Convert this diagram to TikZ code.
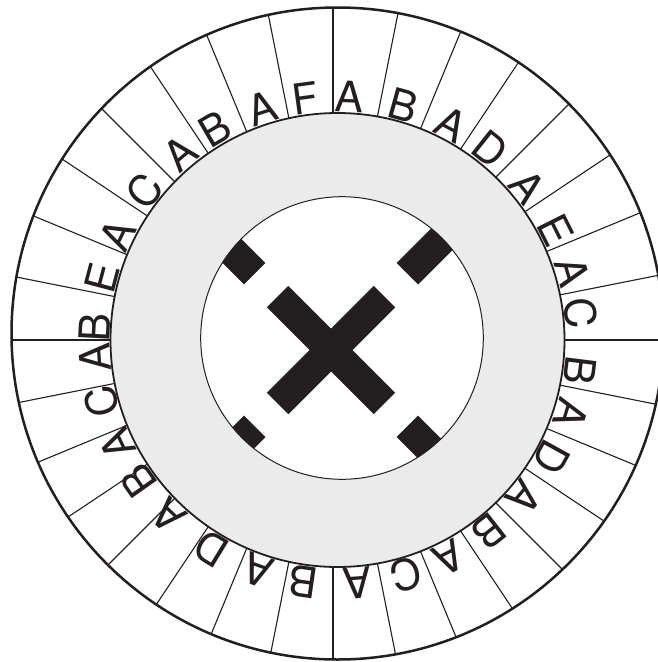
\documentclass[tikz,border=0pt]{standalone}
\usepackage{fontspec}
\setmainfont{TeX Gyre Heros}
\definecolor{ink}{HTML}{231F20}
\definecolor{ringgray}{HTML}{EBEBEB}
\tikzset{
  spoke/.style={line width=1.1pt, draw=ink},
  letter/.style={inner sep=0pt, anchor=base, text=ink, font=\fontsize{42.6}{44}\selectfont},
  bar/.style={line width=30.4pt, draw=ink, line cap=butt}
}
\begin{document}
\begin{tikzpicture}[x=1pt,y=1pt]
\useasboundingbox (0,0) rectangle (658,-662);
\fill[white] (0,0) rectangle (658,-662);
\coordinate (oc) at (337.5,-333.5);
\coordinate (lc) at (333,-340);
\coordinate (gc) at (337.5,-340);
\coordinate (ic) at (342,-338);
\coordinate (xc) at (331,-350);
\coordinate (tc) at (338,-340);
% spokes
\begin{scope}
  \clip (oc) circle (326);
  \foreach \a in {0,11.25,...,349} \draw[spoke] (lc) -- ++({90-\a}:420);
\end{scope}
% gray ring
\draw[line width=1.8pt, draw=ink, fill=ringgray] (gc) circle (227);
% inner white disc
\fill[white] (ic) circle (141.3);
\begin{scope}
  \clip (ic) circle (141.3);
  \foreach \r in {45,135} {
    \draw[bar] (xc) ++(\r:-75.5) -- ++(\r:151);
    \draw[bar] (xc) ++(\r:108) -- ++(\r:120);
    \draw[bar] (xc) ++(\r:-108) -- ++(\r:-120);
  }
\end{scope}
\draw[line width=1pt, draw=ink] (ic) circle (141.3);
% letters
\foreach \a/\l [count=\i] in {2.8/A,15.6/B,27.8/A,38.5/D,51/A,63.3/E,73.9/A,83.6/C,
  97.1/B,107.5/A,118.9/D,130.3/A,141.8/B,153/A,163.8/C,175.5/A,
  188.2/B,199.2/A,211.4/D,224/A,234.7/B,244.7/A,255.3/C,266/A,
  273/B,284.8/E,295.6/A,307.6/C,319.7/A,329.8/B,342/A,352.2/F}
  \path (tc) ++({90-\a}:228.5) node[letter, rotate=-\a] (L\i) {\l};
% outer rim
\draw[line width=2.5pt, draw=ink] (oc) circle (326);
\end{tikzpicture}
\end{document}
